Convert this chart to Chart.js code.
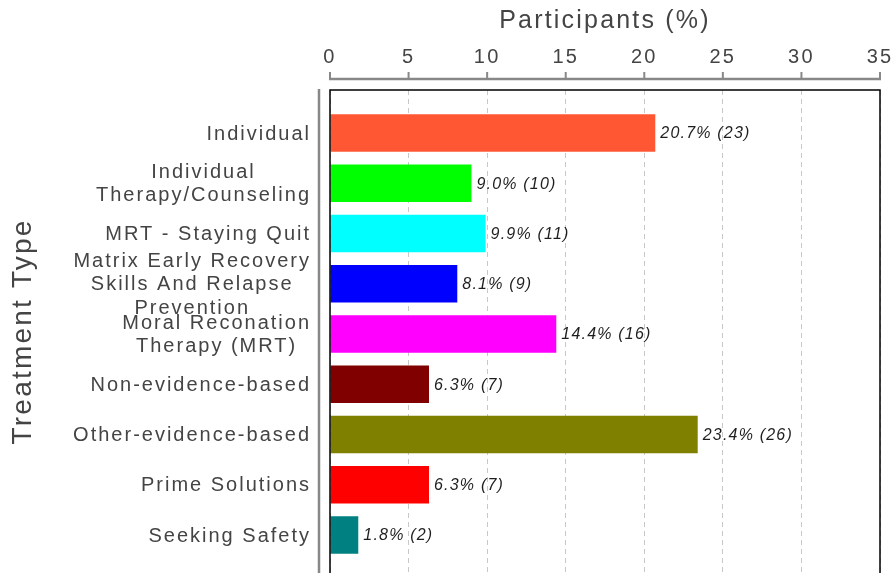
<!DOCTYPE html>
<html><head><meta charset="utf-8">
<script src="https://cdn.jsdelivr.net/npm/chart.js@4/dist/chart.umd.min.js"></script>
<style>html,body{margin:0;padding:0;background:#fff;overflow:hidden}#wrap{width:894px;height:573px;position:relative}</style>
</head><body><div id="wrap"><canvas id="c"></canvas></div>
<script>
const categories = [["Individual"], ["Individual","Therapy/Counseling"], ["MRT - Staying Quit"], ["Matrix Early Recovery","Skills And Relapse","Prevention"], ["Moral Reconation","Therapy (MRT)"], ["Non-evidence-based"], ["Other-evidence-based"], ["Prime Solutions"], ["Seeking Safety"]];
const percents = [20.7, 9.0, 9.9, 8.1, 14.4, 6.3, 23.4, 6.3, 1.8];
const counts = [23, 10, 11, 9, 16, 7, 26, 7, 2];
const barColors = ["#FF5733", "#00FF00", "#00FFFF", "#0000FF", "#FF00FF", "#800000", "#808000", "#FF0000", "#008080"];
const xTicks = [0, 5, 10, 15, 20, 25, 30, 35];

const FAMILY = '"Liberation Sans", Arial, sans-serif';

const customDraw = {
  id: 'customDraw',
  beforeDraw(chart) {
    chart.ctx.letterSpacing = '2.2px';
  },
  afterDatasetsDraw(chart) {
    const ctx = chart.ctx;
    const xs = chart.scales.x, ys = chart.scales.y;
    ctx.save();
    ctx.letterSpacing = '1.2px';
    ctx.font = 'italic 16px ' + FAMILY;
    ctx.fillStyle = '#1e1e1e';
    ctx.textBaseline = 'middle';
    ctx.textAlign = 'left';
    percents.forEach((p, i) => {
      const x = xs.getPixelForValue(p) + 5;
      const y = ys.getPixelForValue(i);
      ctx.fillText(p.toFixed(1) + '% (' + counts[i] + ')', x, y + 1);
    });
    ctx.restore();
  },
  afterDraw(chart) {
    const ctx = chart.ctx;
    const xs = chart.scales.x, ys = chart.scales.y;
    const a = chart.chartArea;
    ctx.save();
    // plot box (bottom lies below the visible canvas)
    ctx.strokeStyle = '#000';
    ctx.lineWidth = 1.5;
    ctx.beginPath();
    ctx.moveTo(a.left, a.bottom + 5);
    ctx.lineTo(a.left, a.top);
    ctx.lineTo(a.right, a.top);
    ctx.lineTo(a.right, a.bottom + 5);
    ctx.stroke();
    // top axis line with ticks
    ctx.strokeStyle = '#888';
    ctx.lineWidth = 2.5;
    const ay = a.top - 11;
    ctx.beginPath();
    ctx.moveTo(xs.getPixelForValue(xTicks[0]) - 1, ay);
    ctx.lineTo(xs.getPixelForValue(xTicks[xTicks.length - 1]) + 1, ay);
    ctx.stroke();
    ctx.lineWidth = 2;
    xTicks.forEach(v => {
      const x = xs.getPixelForValue(v);
      ctx.beginPath();
      ctx.moveTo(x, ay);
      ctx.lineTo(x, ay - 7);
      ctx.stroke();
    });
    // left axis line
    ctx.lineWidth = 2.5;
    ctx.beginPath();
    ctx.moveTo(a.left - 11, a.top - 1);
    ctx.lineTo(a.left - 11, a.bottom + 5);
    ctx.stroke();
    // category labels: block right-aligned, lines centred within block
    ctx.letterSpacing = '2px';
    ctx.font = '20px ' + FAMILY;
    ctx.fillStyle = '#444';
    ctx.textBaseline = 'middle';
    ctx.textAlign = 'left';
    const right = a.left - 21;
    const lh = 23.3;
    categories.forEach((lines, i) => {
      const cy = ys.getPixelForValue(i) + 1;
      const widths = lines.map(l => ctx.measureText(l).width - 2);
      const maxW = Math.max(...widths);
      const cx = right - maxW / 2;
      lines.forEach((l, k) => {
        const y = cy + (k - (lines.length - 1) / 2) * lh;
        ctx.fillText(l, cx - widths[k] / 2, y);
      });
    });
    ctx.restore();
  }
};

new Chart(document.getElementById('c'), {
  type: 'bar',
  data: {
    datasets: [{
      data: percents.map((v, i) => ({ x: v, y: i })),
      backgroundColor: barColors,
      borderWidth: 0,
      categoryPercentage: 1,
      barPercentage: 0.75
    }]
  },
  options: {
    indexAxis: 'y',
    responsive: true,
    maintainAspectRatio: false,
    animation: false,
    layout: { padding: { left: 0, right: 14, top: 0, bottom: 0 } },
    plugins: { legend: { display: false }, tooltip: { enabled: false } },
    scales: {
      x: {
        type: 'linear',
        position: 'top',
        min: 0,
        max: 35,
        afterBuildTicks: s => { s.ticks = xTicks.map(v => ({ value: v })); },
        afterFit: s => { s.height = 90; s.paddingLeft = 0; s.paddingRight = 0; },
        grid: { display: true, drawTicks: false, color: '#c8c8c8', lineWidth: 1 },
        border: { display: false, dash: [5, 4] },
        ticks: { font: { size: 20, family: FAMILY }, color: '#444', padding: 21, maxRotation: 0 },
        title: { display: true, text: 'Participants (%)', color: '#444', font: { size: 25, family: FAMILY }, padding: { top: 6, bottom: 0 } }
      },
      y: {
        type: 'linear',
        reverse: true,
        offset: false,
        min: -0.856,
        max: 8.756,
        afterBuildTicks: s => { s.ticks = categories.map((_, i) => ({ value: i })); },
        afterFit: s => { s.width = 330; s.paddingTop = 0; s.paddingBottom = 0; },
        grid: { display: false, offset: false },
        border: { display: false },
        ticks: { display: false },
        title: { display: true, text: 'Treatment Type', color: '#444', font: { size: 28, family: FAMILY }, padding: { top: 6, bottom: 0 } }
      }
    }
  },
  plugins: [customDraw]
});
</script>
</body></html>
